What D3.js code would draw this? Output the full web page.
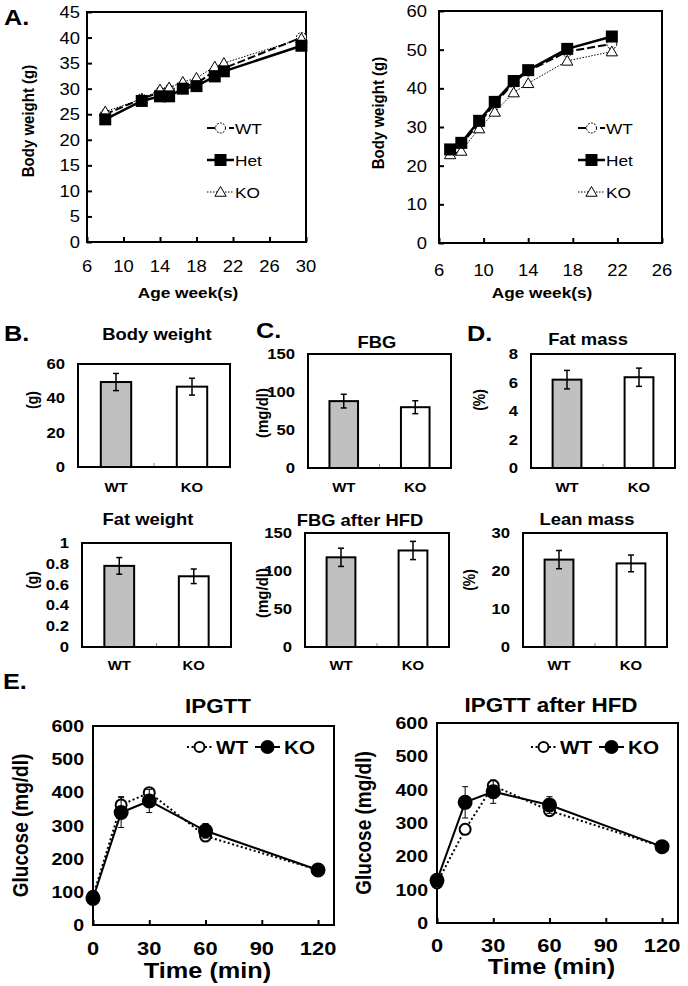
<!DOCTYPE html>
<html><head><meta charset="utf-8">
<script src="https://cdn.jsdelivr.net/npm/d3@7"></script>
<style>body{margin:0;background:#fff}svg{display:block}text{font-family:"Liberation Sans",Arial,sans-serif;fill:#000}</style>
</head><body>
<script>
// ---------- DATA ----------
const aLeftWeeks = [8, 12, 14, 15, 16.5, 18, 20, 21, 29.5];
const aLeftWT  = [25, 28, 29.3, 29.8, 30.5, 31, 33.5, 34, 40];
const aLeftHet = [24, 27.6, 28.5, 28.5, 30, 30.5, 32.4, 33.4, 38.4];
const aLeftKO  = [25.5, 28, 29.8, 30.2, 31.3, 32.1, 34.3, 35, 39.8];
const aLeftXTicks = [6, 10, 14, 18, 22, 26, 30];
const aLeftYTicks = [0, 5, 10, 15, 20, 25, 30, 35, 40, 45];

const aRightWeeks = [7, 8, 9.6, 11, 12.7, 14, 17.5, 21.5];
const aRightWT  = [24, 25.5, 31, 36, 41.5, 44.5, 49.5, 51.5];
const aRightHet = [24.2, 25.9, 31.6, 36.5, 41.9, 44.7, 50.2, 53.4];
const aRightKO  = [22.9, 23.8, 29.6, 33.9, 38.9, 41.3, 47.1, 49.5];
const aRightXTicks = [6, 10, 14, 18, 22, 26];
const aRightYTicks = [0, 10, 20, 30, 40, 50, 60];

const groups = ["WT", "KO"];
const bodyWeightMean = [49.5, 46.8], bodyWeightErr = [5, 4.9], bodyWeightTicks = [0, 20, 40, 60];
const fbgMean = [88, 80], fbgErr = [9, 8.5], fbgTicks = [0, 50, 100, 150];
const fatMassMean = [6.2, 6.37], fatMassErr = [0.65, 0.64], fatMassTicks = [0, 2, 4, 6, 8];
const fatWeightMean = [0.78, 0.68], fatWeightErr = [0.08, 0.07], fatWeightTicks = [0, 0.2, 0.4, 0.6, 0.8, 1];
const fbgHfdMean = [118, 127], fbgHfdErr = [12, 12], fbgHfdTicks = [0, 50, 100, 150];
const leanMassMean = [23, 22], leanMassErr = [2.4, 2.2], leanMassTicks = [0, 10, 20, 30];

const gttTime = [0, 15, 30, 60, 120];
const gttWT = [87, 362, 399, 268, 166], gttWTErr = [10, 25, 10, 10, 8];
const gttKO = [80, 339, 374, 284, 166], gttKOErr = [10, 45, 35, 22, 8];
const hfdWT = [120, 281, 412, 337, 229], hfdWTErr = [10, 15, 12, 10, 8];
const hfdKO = [128, 362, 394, 354, 229], hfdKOErr = [12, 47, 35, 25, 8];
const gttXTicks = [0, 30, 60, 90, 120];
const gttYTicks = [0, 100, 200, 300, 400, 500, 600];

// ---------- DRAW ----------
const svg = d3.select("body").append("svg").attr("width", 688).attr("height", 986);
const SX = 1.15; // horizontal text stretch seen in the figure

function txt(x, y, s, size, weight, anchor, rot, sx) {
  const k = sx === undefined ? SX : sx;
  const t = svg.append("text").attr("x", 0).attr("y", 0).text(s)
    .style("font-size", size + "px").style("font-weight", weight || "normal")
    .attr("text-anchor", anchor || "start");
  if (rot) t.attr("transform", `translate(${x},${y}) rotate(${rot}) scale(1,${k})`);
  else t.attr("transform", `translate(${x},${y}) scale(${k},1)`);
  return t;
}

function marker(g, type, x, y) {
  if (type === "square") {
    g.append("rect").attr("x", x - 6).attr("y", y - 6).attr("width", 12).attr("height", 12).attr("fill", "#000");
  } else if (type === "circle") {
    g.append("circle").attr("cx", x).attr("cy", y).attr("r", 5).attr("fill", "#fff").attr("stroke", "#000").attr("stroke-width", 1).attr("stroke-dasharray", "2,1.2");
  } else if (type === "triangle") {
    g.append("path").attr("d", d3.symbol(d3.symbolTriangle, 55)()).attr("transform", `translate(${x},${y + 1})`)
      .attr("fill", "#fff").attr("stroke", "#000").attr("stroke-width", 1);
  }
}

function weightPanel(cfg) {
  const x = d3.scaleLinear().domain(cfg.xd).range([cfg.x0, cfg.x1]);
  const y = d3.scaleLinear().domain(cfg.yd).range([cfg.y1, cfg.y0]);
  const g = svg.append("g");
  const xa = g.append("g").attr("transform", `translate(0,${cfg.y1})`)
    .call(d3.axisBottom(x).tickValues(cfg.xt).tickSize(-5).tickPadding(0).tickFormat(""));
  xa.select(".domain").remove(); xa.selectAll("line").attr("stroke-width", 2);
  const ya = g.append("g").attr("transform", `translate(${cfg.x0},0)`)
    .call(d3.axisLeft(y).tickValues(cfg.yt).tickSize(-5).tickFormat(""));
  ya.select(".domain").remove(); ya.selectAll("line").attr("stroke-width", 2);
  cfg.xt.forEach(v => txt(x(v), cfg.xlabY, v, 16, "normal", "middle"));
  cfg.yt.forEach(v => txt(cfg.x0 - cfg.ylabGap, y(v) + 6, v, 16, "normal", "end"));
  g.append("rect").attr("x", cfg.x0).attr("y", cfg.y0).attr("width", cfg.x1 - cfg.x0).attr("height", cfg.y1 - cfg.y0)
    .attr("fill", "none").attr("stroke", "#000").attr("stroke-width", 2);
  const series = [
    {v: cfg.wt, dash: "8,3", w: 2, m: "circle"},
    {v: cfg.ko, dash: "1.5,1.5", w: 1, m: "triangle"},
    {v: cfg.het, dash: null, w: 2.5, m: "square"}
  ];
  const line = d3.line().x(d => x(d[0])).y(d => y(d[1]));
  series.forEach(s => {
    const pts = cfg.weeks.map((w, i) => [w, s.v[i]]);
    g.append("path").attr("d", line(pts)).attr("fill", "none").attr("stroke", "#000")
      .attr("stroke-width", s.w).attr("stroke-dasharray", s.dash);
    pts.forEach(p => marker(g, s.m, x(p[0]), y(p[1])));
  });
  const leg = [["WT", series[0]], ["Het", series[2]], ["KO", series[1]]];
  leg.forEach((l, i) => {
    const ly = cfg.legY + i * 32;
    g.append("line").attr("x1", cfg.legX).attr("x2", cfg.legX + 27).attr("y1", ly).attr("y2", ly)
      .attr("stroke", "#000").attr("stroke-width", l[1].w).attr("stroke-dasharray", l[1].dash);
    marker(g, l[1].m, cfg.legX + 13.5, ly);
    txt(cfg.legX + 28, ly + 6, l[0], 15, "normal", "start");
  });
  txt(cfg.xtitleX, 298, "Age week(s)", 15, "bold", "middle");
  txt(cfg.ytitleX, cfg.ytitleY, "Body weight (g)", 15, "bold", "middle", -90);
}

weightPanel({x0: 87, x1: 306, y0: 12, y1: 242, xd: [6, 30], yd: [0, 45], xt: aLeftXTicks, yt: aLeftYTicks,
  weeks: aLeftWeeks, wt: aLeftWT, het: aLeftHet, ko: aLeftKO, xlabY: 272, ylabGap: 7,
  legX: 207, legY: 128, xtitleX: 188, ytitleX: 34, ytitleY: 121});
weightPanel({x0: 439, x1: 662, y0: 11, y1: 243, xd: [6, 26], yd: [0, 60], xt: aRightXTicks, yt: aRightYTicks,
  weeks: aRightWeeks, wt: aRightWT, het: aRightHet, ko: aRightKO, xlabY: 276, ylabGap: 12,
  legX: 578, legY: 128, xtitleX: 542, ytitleX: 384, ytitleY: 113});

function barPanel(cfg) {
  const x = d3.scalePoint().domain(groups).range([cfg.x0, cfg.x1]).padding(0.5);
  const y = d3.scaleLinear().domain([0, d3.max(cfg.ticks)]).range([cfg.y1, cfg.y0]);
  const bw = (cfg.x1 - cfg.x0) * 0.2;
  const g = svg.append("g");
  g.selectAll("rect.bar").data(groups).join("rect").attr("class", "bar")
    .attr("x", d => x(d) - bw / 2).attr("width", bw)
    .attr("y", (d, i) => y(cfg.mean[i])).attr("height", (d, i) => cfg.y1 - y(cfg.mean[i]))
    .attr("fill", (d, i) => i === 0 ? "#c0c0c0" : "#fff").attr("stroke", "#000").attr("stroke-width", 2);
  groups.forEach((d, i) => {
    const cx = x(d), hi = y(cfg.mean[i] + cfg.err[i]), lo = y(cfg.mean[i] - cfg.err[i]);
    g.append("line").attr("x1", cx).attr("x2", cx).attr("y1", hi).attr("y2", lo).attr("stroke", "#000").attr("stroke-width", 1.5);
    [hi, lo].forEach(yy => g.append("line").attr("x1", cx - 3).attr("x2", cx + 3).attr("y1", yy).attr("y2", yy).attr("stroke", "#000").attr("stroke-width", 1.5));
    txt(cx, cfg.xlabY, d, 13, "bold", "middle");
  });
  const mid = (cfg.x0 + cfg.x1) / 2;
  g.append("line").attr("x1", mid).attr("x2", mid).attr("y1", cfg.y1).attr("y2", cfg.y1 - 4).attr("stroke", "#888").attr("stroke-width", 1);
  g.append("rect").attr("x", cfg.x0).attr("y", cfg.y0).attr("width", cfg.x1 - cfg.x0).attr("height", cfg.y1 - cfg.y0)
    .attr("fill", "none").attr("stroke", "#000").attr("stroke-width", 2);
  cfg.ticks.forEach(v => txt(cfg.x0 - 13, y(v) + 5, v, 14.5, "bold", "end"));
  txt(cfg.titleX, cfg.titleY, cfg.title, 16, "bold", "middle");
  txt(cfg.ylX, cfg.ylY, cfg.ylabel, cfg.ylSize || 14, "bold", "middle", -90);
}

barPanel({x0: 78, x1: 230, y0: 364, y1: 467, mean: bodyWeightMean, err: bodyWeightErr, ticks: bodyWeightTicks,
  title: "Body weight", titleX: 157, titleY: 340, ylabel: "(g)", ylX: 38, ylY: 400, xlabY: 492});
barPanel({x0: 308, x1: 451, y0: 354, y1: 468, mean: fbgMean, err: fbgErr, ticks: fbgTicks,
  title: "FBG", titleX: 377, titleY: 348, ylabel: "(mg/dl)", ylSize: 15, ylX: 268, ylY: 413, xlabY: 492});
barPanel({x0: 531, x1: 675, y0: 354, y1: 468, mean: fatMassMean, err: fatMassErr, ticks: fatMassTicks,
  title: "Fat mass", titleX: 588, titleY: 345, ylabel: "(%)", ylX: 485, ylY: 400, xlabY: 492});
barPanel({x0: 82, x1: 231, y0: 543, y1: 647, mean: fatWeightMean, err: fatWeightErr, ticks: fatWeightTicks,
  title: "Fat weight", titleX: 148, titleY: 525, ylabel: "(g)", ylX: 38, ylY: 580, xlabY: 670});
barPanel({x0: 305, x1: 449, y0: 533, y1: 647, mean: fbgHfdMean, err: fbgHfdErr, ticks: fbgHfdTicks,
  title: "FBG after HFD", titleX: 360, titleY: 526, ylabel: "(mg/dl)", ylSize: 15, ylX: 268, ylY: 593, xlabY: 670});
barPanel({x0: 523, x1: 667, y0: 533, y1: 647, mean: leanMassMean, err: leanMassErr, ticks: leanMassTicks,
  title: "Lean mass", titleX: 587, titleY: 525, ylabel: "(%)", ylX: 475, ylY: 580, xlabY: 670});

function gttPanel(cfg) {
  const x = d3.scaleLinear().domain([0, 128.5]).range([cfg.x0, cfg.x1]);
  const y = d3.scaleLinear().domain([0, 600]).range([cfg.y1, cfg.y0]);
  const g = svg.append("g");
  const xa = g.append("g").attr("transform", `translate(0,${cfg.y1})`)
    .call(d3.axisBottom(x).tickValues(gttXTicks).tickSize(-5).tickFormat(""));
  xa.select(".domain").remove(); xa.selectAll("line").attr("stroke-width", 2);
  gttXTicks.forEach(v => txt(x(v), cfg.xlabY, v, 19, "bold", "middle"));
  gttYTicks.forEach(v => txt(cfg.x0 - 9, y(v) + 6, v, 17, "bold", "end"));
  g.append("rect").attr("x", cfg.x0).attr("y", cfg.y0).attr("width", cfg.x1 - cfg.x0).attr("height", cfg.y1 - cfg.y0)
    .attr("fill", "none").attr("stroke", "#000").attr("stroke-width", 2);
  const line = d3.line().x(d => x(d[0])).y(d => y(d[1]));
  const series = [
    {v: cfg.wt, e: cfg.wtErr, dash: "2,2.5", filled: false},
    {v: cfg.ko, e: cfg.koErr, dash: null, filled: true}
  ];
  series.forEach(s => {
    const pts = gttTime.map((t, i) => [t, s.v[i], s.e[i]]);
    pts.forEach(p => {
      const cx = x(p[0]), hi = y(p[1] + p[2]), lo = y(p[1] - p[2]);
      g.append("line").attr("x1", cx).attr("x2", cx).attr("y1", hi).attr("y2", lo).attr("stroke", "#000").attr("stroke-width", 1);
      [hi, lo].forEach(yy => g.append("line").attr("x1", cx - 3).attr("x2", cx + 3).attr("y1", yy).attr("y2", yy).attr("stroke", "#000").attr("stroke-width", 1));
    });
    g.append("path").attr("d", line(pts)).attr("fill", "none").attr("stroke", "#000").attr("stroke-width", 2).attr("stroke-dasharray", s.dash);
    pts.forEach(p => g.append("circle").attr("cx", x(p[0])).attr("cy", y(p[1])).attr("r", s.filled ? 6.5 : 5.5)
      .attr("fill", s.filled ? "#000" : "#fff").attr("stroke", "#000").attr("stroke-width", 2));
  });
  const ly = 747;
  [[cfg.legX, series[0], "WT"], [cfg.legX + 68, series[1], "KO"]].forEach(l => {
    g.append("line").attr("x1", l[0]).attr("x2", l[0] + 25).attr("y1", ly).attr("y2", ly).attr("stroke", "#000").attr("stroke-width", 2).attr("stroke-dasharray", l[1].dash);
    g.append("circle").attr("cx", l[0] + 12.5).attr("cy", ly).attr("r", l[1].filled ? 6 : 5)
      .attr("fill", l[1].filled ? "#000" : "#fff").attr("stroke", "#000").attr("stroke-width", 2);
    txt(l[0] + 29, ly + 7, l[2], 18, "bold", "start");
  });
  txt(cfg.titleX, cfg.titleY, cfg.title, 19.5, "bold", "middle");
  txt((cfg.x0 + x(120)) / 2 + 2, cfg.xtY, "Time (min)", 22, "bold", "middle");
  txt(cfg.ytX, (cfg.y0 + cfg.y1) / 2, "Glucose (mg/dl)", 19, "bold", "middle", -90);
}

gttPanel({x0: 93, x1: 334, y0: 726, y1: 925, wt: gttWT, wtErr: gttWTErr, ko: gttKO, koErr: gttKOErr,
  legX: 187, title: "IPGTT", titleX: 218, titleY: 713, xlabY: 955, xtY: 978, ytX: 28});
gttPanel({x0: 437, x1: 678, y0: 723, y1: 923, wt: hfdWT, wtErr: hfdWTErr, ko: hfdKO, koErr: hfdKOErr,
  legX: 531, title: "IPGTT after HFD", titleX: 551, titleY: 712, xlabY: 952, xtY: 974, ytX: 371});

txt(4, 25, "A.", 22, "bold");
txt(4, 341, "B.", 22, "bold");
txt(256, 338, "C.", 22, "bold");
txt(467, 341, "D.", 22, "bold");
txt(3, 689, "E.", 22, "bold");
</script>
</body></html>
